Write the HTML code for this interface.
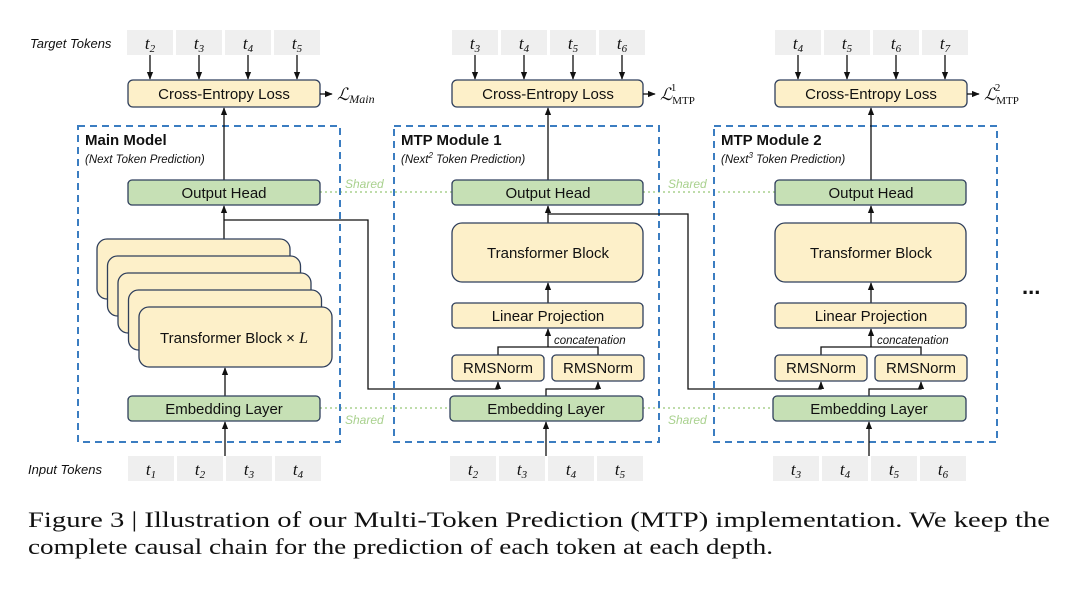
<!DOCTYPE html>
<html><head><meta charset="utf-8"><style>
html,body{margin:0;padding:0;background:#fff;}
svg{display:block;}
text{font-family:"Liberation Sans",sans-serif;}
.b{font-size:15px;fill:#111;text-anchor:middle;}
.t{font-family:"Liberation Serif",serif;font-style:italic;font-size:17px;fill:#111;text-anchor:middle;}
.sf{font-family:"Liberation Serif",serif;}
.y{fill:#fdf0c9;stroke:#2f3f5c;stroke-width:1.3;}
.g{fill:#c6e0b5;stroke:#2f3f5c;stroke-width:1.3;}
.k{fill:#efefef;}
.l{stroke:#111;stroke-width:1.3;fill:none;}
.d{fill:none;stroke:#3b7dc1;stroke-width:2;stroke-dasharray:7,5;}
.sh{stroke:#a9d18e;stroke-width:1.5;stroke-dasharray:2,3;}
.shl{font-size:12px;font-style:italic;fill:#a9d18e;}
.h{font-size:15px;font-weight:bold;fill:#111;}
.i{font-size:11.5px;font-style:italic;fill:#111;}
.lb{font-size:13px;font-style:italic;fill:#111;}
.cap{font-family:"Liberation Serif",serif;font-size:22px;fill:#111;}
.L{font-family:"Liberation Serif",serif;font-style:italic;font-size:17px;fill:#111;}
</style></head><body>
<svg width="1092" height="596" viewBox="0 0 1092 596">
<defs><marker id="a" viewBox="0 0 10 10" refX="9" refY="5" markerWidth="6" markerHeight="6" orient="auto"><path d="M0,1 L10,5 L0,9z" fill="#111"/></marker></defs>

<line class="sh" x1="320" y1="192" x2="452" y2="192"/><line class="sh" x1="643" y1="192" x2="775" y2="192"/>
<line class="sh" x1="320" y1="408" x2="450" y2="408"/><line class="sh" x1="643" y1="408" x2="773" y2="408"/>
<text class="shl" x="345" y="188">Shared</text><text class="shl" x="668" y="188">Shared</text>
<text class="shl" x="345" y="424">Shared</text><text class="shl" x="668" y="424">Shared</text>

<rect class="d" x="78" y="126" width="262" height="316"/>
<rect class="d" x="394" y="126" width="265" height="316"/>
<rect class="d" x="714" y="126" width="283" height="316"/>

<text class="lb" x="30" y="48">Target Tokens</text>
<text class="lb" x="28" y="474">Input Tokens</text>

<g>
<rect class="k" x="127" y="30" width="46" height="25"/><rect class="k" x="176" y="30" width="46" height="25"/><rect class="k" x="225" y="30" width="46" height="25"/><rect class="k" x="274" y="30" width="46" height="25"/>
<text class="t" x="150" y="49">t<tspan font-size="11" dy="3">2</tspan></text><text class="t" x="199" y="49">t<tspan font-size="11" dy="3">3</tspan></text><text class="t" x="248" y="49">t<tspan font-size="11" dy="3">4</tspan></text><text class="t" x="297" y="49">t<tspan font-size="11" dy="3">5</tspan></text>
<line class="l" x1="150" y1="55" x2="150" y2="79" marker-end="url(#a)"/><line class="l" x1="199" y1="55" x2="199" y2="79" marker-end="url(#a)"/><line class="l" x1="248" y1="55" x2="248" y2="79" marker-end="url(#a)"/><line class="l" x1="297" y1="55" x2="297" y2="79" marker-end="url(#a)"/>
<rect class="y" x="128" y="80" width="192" height="27" rx="5"/><text class="b" x="224" y="99">Cross-Entropy Loss</text>
<line class="l" x1="320" y1="94" x2="332" y2="94" marker-end="url(#a)"/>
<text class="L" x="337" y="100">ℒ<tspan font-size="12" dy="3">Main</tspan></text>
<line class="l" x1="224" y1="180" x2="224" y2="108" marker-end="url(#a)"/>
<text class="h" x="85" y="145">Main Model</text><text class="i" x="85" y="163">(Next Token Prediction)</text>
<rect class="g" x="128" y="180" width="192" height="25" rx="4"/><text class="b" x="224" y="198">Output Head</text>
<line class="l" x1="224" y1="239" x2="224" y2="206" marker-end="url(#a)"/>
<rect class="y" x="97" y="239" width="193" height="60" rx="10"/>
<rect class="y" x="107.5" y="256" width="193" height="60" rx="10"/>
<rect class="y" x="118" y="273" width="193" height="60" rx="10"/>
<rect class="y" x="128.5" y="290" width="193" height="60" rx="10"/>
<rect class="y" x="139" y="307" width="193" height="60" rx="10"/>
<text class="b" x="234" y="343">Transformer Block × <tspan class="sf" font-style="italic" font-size="16">L</tspan></text>
<line class="l" x1="225" y1="396" x2="225" y2="368" marker-end="url(#a)"/>
<rect class="g" x="128" y="396" width="192" height="25" rx="4"/><text class="b" x="224" y="414">Embedding Layer</text>
<line class="l" x1="225" y1="456" x2="225" y2="422" marker-end="url(#a)"/>
<rect class="k" x="128" y="456" width="46" height="25"/><rect class="k" x="177" y="456" width="46" height="25"/><rect class="k" x="226" y="456" width="46" height="25"/><rect class="k" x="275" y="456" width="46" height="25"/>
<text class="t" x="151" y="475">t<tspan font-size="11" dy="3">1</tspan></text><text class="t" x="200" y="475">t<tspan font-size="11" dy="3">2</tspan></text><text class="t" x="249" y="475">t<tspan font-size="11" dy="3">3</tspan></text><text class="t" x="298" y="475">t<tspan font-size="11" dy="3">4</tspan></text>
</g>
<polyline class="l" points="224,220 368,220 368,389 498,389 498,382" marker-end="url(#a)"/>
<polyline class="l" points="548,214 688,214 688,389 821,389 821,382" marker-end="url(#a)"/>

<g>
<rect class="k" x="452" y="30" width="46" height="25"/><rect class="k" x="501" y="30" width="46" height="25"/><rect class="k" x="550" y="30" width="46" height="25"/><rect class="k" x="599" y="30" width="46" height="25"/>
<text class="t" x="475" y="49">t<tspan font-size="11" dy="3">3</tspan></text><text class="t" x="524" y="49">t<tspan font-size="11" dy="3">4</tspan></text><text class="t" x="573" y="49">t<tspan font-size="11" dy="3">5</tspan></text><text class="t" x="622" y="49">t<tspan font-size="11" dy="3">6</tspan></text>
<line class="l" x1="475" y1="55" x2="475" y2="79" marker-end="url(#a)"/><line class="l" x1="524" y1="55" x2="524" y2="79" marker-end="url(#a)"/><line class="l" x1="573" y1="55" x2="573" y2="79" marker-end="url(#a)"/><line class="l" x1="622" y1="55" x2="622" y2="79" marker-end="url(#a)"/>
<rect class="y" x="452" y="80" width="191" height="27" rx="5"/><text class="b" x="548" y="99">Cross-Entropy Loss</text>
<line class="l" x1="643" y1="94" x2="655" y2="94" marker-end="url(#a)"/>
<text class="L" x="660" y="100">ℒ<tspan font-style="normal" font-size="11" dy="4">MTP</tspan><tspan font-style="normal" font-size="11" dx="-24" dy="-13">1</tspan></text>
<line class="l" x1="548" y1="180" x2="548" y2="108" marker-end="url(#a)"/>
<text class="h" x="401" y="145">MTP Module 1</text><text class="i" x="401" y="163">(Next<tspan font-size="8" dy="-5">2</tspan><tspan dy="5"> Token Prediction)</tspan></text>
<rect class="g" x="452" y="180" width="191" height="25" rx="4"/><text class="b" x="548" y="198">Output Head</text>
<line class="l" x1="548" y1="223" x2="548" y2="206" marker-end="url(#a)"/>
<rect class="y" x="452" y="223" width="191" height="59" rx="10"/><text class="b" x="548" y="258">Transformer Block</text>
<line class="l" x1="548" y1="303" x2="548" y2="283" marker-end="url(#a)"/>
<rect class="y" x="452" y="303" width="191" height="25" rx="4"/><text class="b" x="548" y="321">Linear Projection</text>
<line class="l" x1="548" y1="347" x2="548" y2="329" marker-end="url(#a)"/>
<text class="i" x="554" y="344">concatenation</text>
<polyline class="l" points="498,355 498,347 598,347 598,355"/>
<rect class="y" x="452" y="355" width="92" height="26" rx="4"/><text class="b" x="498" y="373">RMSNorm</text>
<rect class="y" x="552" y="355" width="92" height="26" rx="4"/><text class="b" x="598" y="373">RMSNorm</text>
<polyline class="l" points="546,396 546,389 598,389 598,382" marker-end="url(#a)"/>
<rect class="g" x="450" y="396" width="193" height="25" rx="4"/><text class="b" x="546" y="414">Embedding Layer</text>
<line class="l" x1="546" y1="456" x2="546" y2="422" marker-end="url(#a)"/>
<rect class="k" x="450" y="456" width="46" height="25"/><rect class="k" x="499" y="456" width="46" height="25"/><rect class="k" x="548" y="456" width="46" height="25"/><rect class="k" x="597" y="456" width="46" height="25"/>
<text class="t" x="473" y="475">t<tspan font-size="11" dy="3">2</tspan></text><text class="t" x="522" y="475">t<tspan font-size="11" dy="3">3</tspan></text><text class="t" x="571" y="475">t<tspan font-size="11" dy="3">4</tspan></text><text class="t" x="620" y="475">t<tspan font-size="11" dy="3">5</tspan></text>
</g>

<g>
<rect class="k" x="775" y="30" width="46" height="25"/><rect class="k" x="824" y="30" width="46" height="25"/><rect class="k" x="873" y="30" width="46" height="25"/><rect class="k" x="922" y="30" width="46" height="25"/>
<text class="t" x="798" y="49">t<tspan font-size="11" dy="3">4</tspan></text><text class="t" x="847" y="49">t<tspan font-size="11" dy="3">5</tspan></text><text class="t" x="896" y="49">t<tspan font-size="11" dy="3">6</tspan></text><text class="t" x="945" y="49">t<tspan font-size="11" dy="3">7</tspan></text>
<line class="l" x1="798" y1="55" x2="798" y2="79" marker-end="url(#a)"/><line class="l" x1="847" y1="55" x2="847" y2="79" marker-end="url(#a)"/><line class="l" x1="896" y1="55" x2="896" y2="79" marker-end="url(#a)"/><line class="l" x1="945" y1="55" x2="945" y2="79" marker-end="url(#a)"/>
<rect class="y" x="775" y="80" width="192" height="27" rx="5"/><text class="b" x="871" y="99">Cross-Entropy Loss</text>
<line class="l" x1="967" y1="94" x2="979" y2="94" marker-end="url(#a)"/>
<text class="L" x="984" y="100">ℒ<tspan font-style="normal" font-size="11" dy="4">MTP</tspan><tspan font-style="normal" font-size="11" dx="-24" dy="-13">2</tspan></text>
<line class="l" x1="871" y1="180" x2="871" y2="108" marker-end="url(#a)"/>
<text class="h" x="721" y="145">MTP Module 2</text><text class="i" x="721" y="163">(Next<tspan font-size="8" dy="-5">3</tspan><tspan dy="5"> Token Prediction)</tspan></text>
<rect class="g" x="775" y="180" width="191" height="25" rx="4"/><text class="b" x="871" y="198">Output Head</text>
<line class="l" x1="871" y1="223" x2="871" y2="206" marker-end="url(#a)"/>
<rect class="y" x="775" y="223" width="191" height="59" rx="10"/><text class="b" x="871" y="258">Transformer Block</text>
<line class="l" x1="871" y1="303" x2="871" y2="283" marker-end="url(#a)"/>
<rect class="y" x="775" y="303" width="191" height="25" rx="4"/><text class="b" x="871" y="321">Linear Projection</text>
<line class="l" x1="871" y1="347" x2="871" y2="329" marker-end="url(#a)"/>
<text class="i" x="877" y="344">concatenation</text>
<polyline class="l" points="821,355 821,347 921,347 921,355"/>
<rect class="y" x="775" y="355" width="92" height="26" rx="4"/><text class="b" x="821" y="373">RMSNorm</text>
<rect class="y" x="875" y="355" width="92" height="26" rx="4"/><text class="b" x="921" y="373">RMSNorm</text>
<polyline class="l" points="869,396 869,389 921,389 921,382" marker-end="url(#a)"/>
<rect class="g" x="773" y="396" width="193" height="25" rx="4"/><text class="b" x="869" y="414">Embedding Layer</text>
<line class="l" x1="869" y1="456" x2="869" y2="422" marker-end="url(#a)"/>
<rect class="k" x="773" y="456" width="46" height="25"/><rect class="k" x="822" y="456" width="46" height="25"/><rect class="k" x="871" y="456" width="46" height="25"/><rect class="k" x="920" y="456" width="46" height="25"/>
<text class="t" x="796" y="475">t<tspan font-size="11" dy="3">3</tspan></text><text class="t" x="845" y="475">t<tspan font-size="11" dy="3">4</tspan></text><text class="t" x="894" y="475">t<tspan font-size="11" dy="3">5</tspan></text><text class="t" x="943" y="475">t<tspan font-size="11" dy="3">6</tspan></text>
</g>

<text x="1022" y="294" font-size="22" font-weight="bold" fill="#111">...</text>

<text class="cap" x="28" y="527" textLength="1022" lengthAdjust="spacingAndGlyphs">Figure 3 | Illustration of our Multi-Token Prediction (MTP) implementation.  We keep the</text>
<text class="cap" x="28" y="554" textLength="745" lengthAdjust="spacingAndGlyphs">complete causal chain for the prediction of each token at each depth.</text>
</svg>
</body></html>
